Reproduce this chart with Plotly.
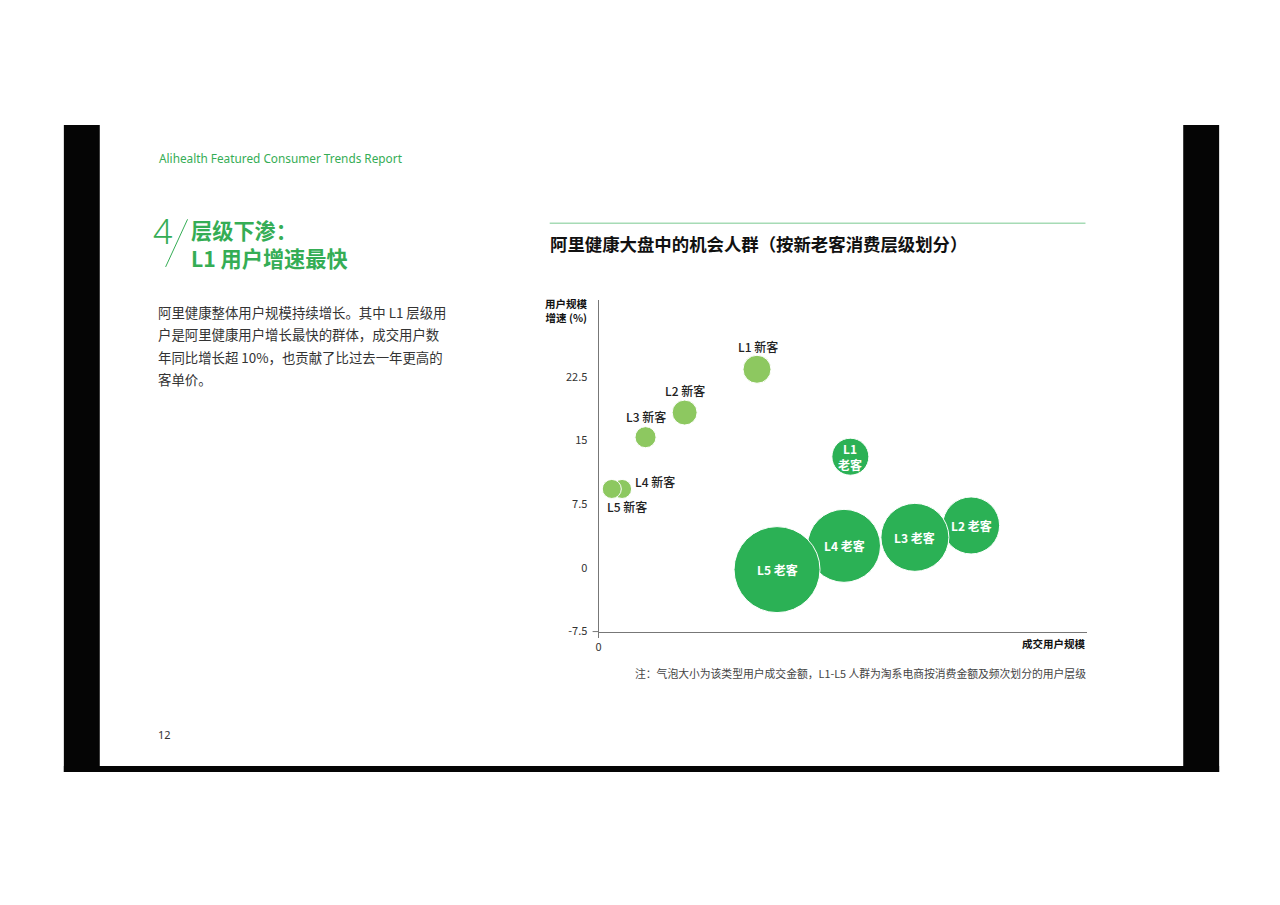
import plotly.graph_objects as go

# ---------------- data ----------------
tiers = ["L1", "L2", "L3", "L4", "L5"]
new_scale = [32.4, 17.6, 9.6, 4.8, 2.7]        # 成交用户规模 (relative)
new_growth = [23.4, 18.3, 15.4, 9.3, 9.3]      # 用户规模增速 (%)
new_amount = [10.6, 8.4, 6.0, 4.9, 4.9]        # 成交金额 (relative)

old_scale = [51.5, 76.2, 64.7, 50.2, 36.5]
old_growth = [13.1, 5.0, 3.6, 2.6, -0.2]
old_amount = [18.5, 44.0, 62.5, 72.0, 100.0]

y_ticks = [-7.5, 0, 7.5, 15, 22.5]
y_tick_labels = ["-7.5", "0", "7.5", "15", "22.5"]

paragraph = [
    "阿里健康整体用户规模持续增长。其中 L1 层级用",
    "户是阿里健康用户增长最快的群体，成交用户数",
    "年同比增长超 10%，也贡献了比过去一年更高的",
    "客单价。",
]

# ---------------- style ----------------
W, H = 1280, 905
FONT = "Noto Sans CJK SC, Noto Sans, sans-serif"
LIGHT = "#8dc860"
DARK = "#2bb155"
BRAND = "#35ad55"
MAX_D = 86
sizeref = 2.0 * max(old_amount + new_amount) / MAX_D ** 2

def px(x):
    return x / W

def py(y):
    return 1 - y / H

fig = go.Figure()

fig.add_trace(go.Scatter(
    x=new_scale, y=new_growth, mode="markers",
    marker=dict(size=new_amount, sizemode="area", sizeref=sizeref,
                color=LIGHT, opacity=1, line=dict(color="white", width=1)),
    hoverinfo="skip", showlegend=False,
))
fig.add_trace(go.Scatter(
    x=old_scale, y=old_growth, mode="markers",
    marker=dict(size=old_amount, sizemode="area", sizeref=sizeref,
                color=DARK, opacity=1, line=dict(color="white", width=1)),
    hoverinfo="skip", showlegend=False,
))

ann = []
new_label_pos = [
    dict(xanchor="center", xshift=1, yshift=23),
    dict(xanchor="center", xshift=0, yshift=22),
    dict(xanchor="center", xshift=0, yshift=21),
    dict(xanchor="left", xshift=11, yshift=7),
    dict(xanchor="left", xshift=-7, yshift=-18),
]
for t, x, y, pos in zip(tiers, new_scale, new_growth, new_label_pos):
    ann.append(dict(x=x, y=y, xref="x", yref="y", text=f"{t} 新客", showarrow=False,
                    yanchor="middle", font=dict(family=FONT, size=12, color="#222", weight=500),
                    **pos))
for t, x, y in zip(tiers, old_scale, old_growth):
    txt = f"{t}<br>老客" if t == "L1" else f"{t} 老客"
    ann.append(dict(x=x, y=y, xref="x", yref="y", text=txt, showarrow=False,
                    xanchor="center", yanchor="middle",
                    font=dict(family=FONT, size=12, color="white", weight="bold")))

def paper_text(x, y, text, size, color="#333", anchor="left", bold=False, family=FONT,
               weight=None, align="left"):
    f = dict(family=family, size=size, color=color)
    if bold:
        f["weight"] = "bold"
    if weight is not None:
        f["weight"] = weight
    ann.append(dict(x=px(x), y=py(y), xref="paper", yref="paper", text=text,
                    showarrow=False, xanchor=anchor, yanchor="middle", align=align, font=f))

paper_text(154, 159, "Alihealth Featured Consumer Trends Report", 11.8, BRAND,
           family="Noto Sans, sans-serif")
paper_text(148, 233, "4", 34, BRAND, family="Noto Sans, sans-serif", weight=300)
paper_text(186, 245.5, "层级下渗：<br>L1 用户增速最快", 21.2, BRAND, bold=True)
for i, line in enumerate(paragraph):
    paper_text(153, 314 + i * 22.7, line, 13.4, "#333")

paper_text(546, 245, "阿里健康大盘中的机会人群（按新老客消费层级划分）", 17.4, "#111", bold=True)
paper_text(588, 312.5, "用户规模<br>增速 (%)", 10.5, "#111", anchor="right", bold=True, align="right")
paper_text(1088, 649, "成交用户规模", 10.5, "#111", anchor="right", bold=True)
paper_text(1088, 678, "注：气泡大小为该类型用户成交金额，L1-L5 人群为淘系电商按消费金额及频次划分的用户层级",
           10.8, "#444", anchor="right")
paper_text(153, 740, "12", 11, "#333", family="Noto Sans, sans-serif")

shapes = [
    dict(type="rect", xref="paper", yref="paper", x0=px(61), x1=px(97), y0=py(778), y1=py(126),
         fillcolor="#050505", line=dict(width=0), layer="below"),
    dict(type="rect", xref="paper", yref="paper", x0=px(1183), x1=px(1219), y0=py(778), y1=py(126),
         fillcolor="#050505", line=dict(width=0), layer="below"),
    dict(type="rect", xref="paper", yref="paper", x0=px(61), x1=px(1219), y0=py(778), y1=py(772),
         fillcolor="#050505", line=dict(width=0), layer="below"),
    dict(type="line", xref="paper", yref="paper", x0=px(548), x1=px(1085), y0=py(225), y1=py(225),
         line=dict(color="#a6dbb5", width=1.5)),
    dict(type="line", xref="paper", yref="paper", x0=px(185), x1=px(163), y0=py(221), y1=py(269),
         line=dict(color=BRAND, width=1)),
    dict(type="line", xref="paper", yref="paper", x0=px(591), x1=px(597), y0=py(636.5), y1=py(636.5),
         line=dict(color="#777", width=1)),
]

fig.update_layout(
    width=W, height=H,
    margin=dict(l=0, r=0, t=0, b=0),
    paper_bgcolor="white", plot_bgcolor="white",
    showlegend=False,
    annotations=ann, shapes=shapes,
    xaxis=dict(domain=[px(597), px(1087)], range=[0, 100], showgrid=False, zeroline=False,
               showline=True, linecolor="#777", linewidth=1,
               tickvals=[0], ticktext=["0"], ticks="outside", ticklen=5, tickcolor="#777",
               tickfont=dict(family=FONT, size=11, color="#333")),
    yaxis=dict(domain=[py(636.5), py(302)], range=[-7.5, 31.6], showgrid=False, zeroline=False,
               showline=True, linecolor="#777", linewidth=1,
               tickvals=y_ticks, ticktext=y_tick_labels, ticks="",
               ticklabelstandoff=8,
               tickfont=dict(family=FONT, size=11, color="#333")),
    font=dict(family=FONT),
)

fig.write_html(
    "out.html",
    config={"displayModeBar": False},
    post_script=(
        "document.documentElement.style.margin='0';"
        "document.documentElement.style.overflow='hidden';"
        "document.body.style.margin='0';"
        "document.body.style.overflow='hidden';"
    ),
)
